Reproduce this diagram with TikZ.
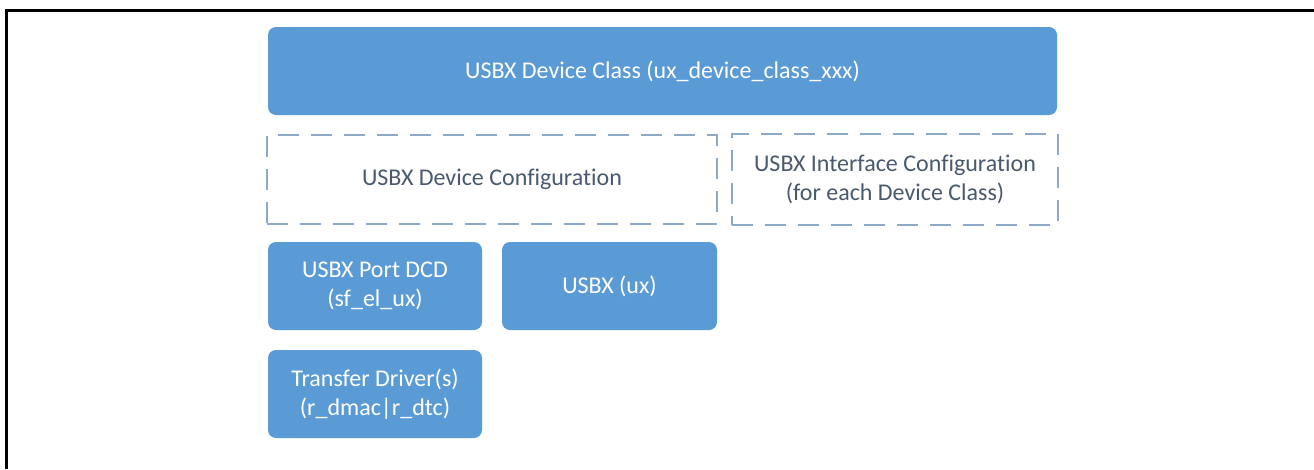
\documentclass[tikz,border=0pt]{standalone}
\usepackage{fontspec}
\setmainfont{Carlito}[Ligatures=NoCommon]
\begin{document}
\begin{tikzpicture}[x=1pt,y=-1pt,
  txt/.style={font=\fontsize{24}{29}\selectfont,align=center,inner sep=0pt},
  bluebox/.style={txt,draw=none,fill=boxblue,rounded corners=8pt,text=white},
  dashbox/.style={txt,draw=dashcol,line width=1.8pt,dash pattern=on 21pt off 12pt,text=textgray}]
\definecolor{boxblue}{HTML}{5B9BD5}
\definecolor{dashcol}{HTML}{8EA9C8}
\definecolor{textgray}{HTML}{4A5A6E}
\useasboundingbox (0,0) rectangle (1314,469);
\fill[white] (0,0) rectangle (1314,469);
\coordinate (frameTL) at (6,10);
\coordinate (frameBL) at (6,469);
\coordinate (frameTR) at (1314,10);
\draw[line width=3pt] (frameBL) -- (frameTL) -- (frameTR);
\node[bluebox,minimum width=789pt,minimum height=88pt] (cls) at (662.5,71) {USBX Device Class (ux\_device\_class\_xxx)};
\node[dashbox,minimum width=450pt,minimum height=89pt] (devcfg) at (492,179.5) {USBX Device Configuration};
\node[dashbox,minimum width=326pt,minimum height=91pt] (ifcfg) at (895,179.5) {USBX Interface Configuration\\(for each Device Class)};
\node[bluebox,minimum width=214pt,minimum height=88pt] (dcd) at (375,286) {USBX Port DCD\\(sf\_el\_ux)};
\node[bluebox,minimum width=215pt,minimum height=88pt] (ux) at (609.5,286) {USBX (ux)};
\node[bluebox,minimum width=214pt,minimum height=88pt] (xfer) at (375,394) {Transfer Driver(s)\\(r\_dmac|r\_dtc)};
\end{tikzpicture}
\end{document}
